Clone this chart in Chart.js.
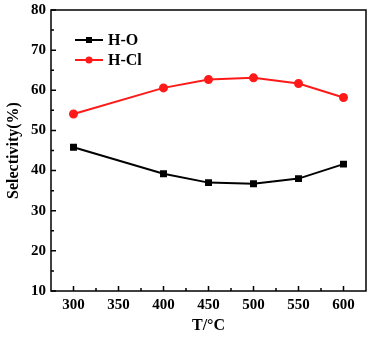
<!DOCTYPE html>
<html lang="en">
<head>
    <title>Selectivity vs T</title>
    <script src="https://cdn.jsdelivr.net/npm/chart.js"></script>
    <style>
        body { margin: 0; background: #fff; }
        #chartContainer { width: 381px; height: 338px; }
    </style>
</head>
<body>
<div id="chartContainer">
    <canvas id="selChart"></canvas>
</div>
<script>
// data
const temps = [300, 400, 450, 500, 550, 600];
const hO = [45.8, 39.2, 37.0, 36.7, 38.0, 41.6];
const hCl = [54.1, 60.6, 62.7, 63.1, 61.7, 58.2];
const xTicks = [300, 350, 400, 450, 500, 550, 600];
const yTicks = [10, 20, 30, 40, 50, 60, 70, 80];

const FONT = '"Liberation Serif", "Times New Roman", serif';

// inward major/minor ticks + frame + legend inside the plot
const decorPlugin = {
    id: 'decor',
    afterDatasetsDraw(chart) {
        const ctx = chart.ctx;
        const a = chart.chartArea;
        const xs = chart.scales.x, ys = chart.scales.y;
        ctx.save();
        ctx.strokeStyle = '#000';
        ctx.lineWidth = 1.5;
        ctx.strokeRect(a.left, a.top, a.right - a.left, a.bottom - a.top);
        ctx.beginPath();
        xTicks.forEach(v => {
            const px = xs.getPixelForValue(v);
            ctx.moveTo(px, a.bottom); ctx.lineTo(px, a.bottom - 5);
            if (v < 600) {
                const pm = xs.getPixelForValue(v + 25);
                ctx.moveTo(pm, a.bottom); ctx.lineTo(pm, a.bottom - 3);
            }
        });
        yTicks.forEach(v => {
            const py = ys.getPixelForValue(v);
            ctx.moveTo(a.left, py); ctx.lineTo(a.left + 5, py);
            if (v < 80) {
                const pm = ys.getPixelForValue(v + 5);
                ctx.moveTo(a.left, pm); ctx.lineTo(a.left + 3, pm);
            }
        });
        ctx.stroke();

        // legend
        ctx.font = 'bold 16px ' + FONT;
        ctx.textBaseline = 'middle';
        chart.data.datasets.forEach((ds, i) => {
            const y = a.top + 30 + i * 20;
            const x0 = a.left + 24;
            ctx.strokeStyle = ds.borderColor;
            ctx.lineWidth = 2;
            ctx.beginPath();
            ctx.moveTo(x0, y); ctx.lineTo(x0 + 28, y);
            ctx.stroke();
            ctx.fillStyle = ds.backgroundColor;
            if (ds.pointStyle === 'rect') {
                ctx.fillRect(x0 + 14 - 3, y - 3, 6, 6);
            } else {
                ctx.beginPath();
                ctx.arc(x0 + 14, y, 3.5, 0, Math.PI * 2);
                ctx.fill();
            }
            ctx.fillStyle = '#000';
            ctx.fillText(ds.label, x0 + 33, y + 1);
        });
        ctx.restore();
    }
};

new Chart(document.getElementById('selChart'), {
    type: 'line',
    data: {
        datasets: [{
            label: 'H-O',
            data: temps.map((t, i) => ({ x: t, y: hO[i] })),
            borderColor: '#000',
            backgroundColor: '#000',
            pointStyle: 'rect',
            pointRadius: 3.5,
            borderWidth: 2,
            tension: 0
        }, {
            label: 'H-Cl',
            data: temps.map((t, i) => ({ x: t, y: hCl[i] })),
            borderColor: '#ff1a1a',
            backgroundColor: '#ff1a1a',
            pointStyle: 'circle',
            pointRadius: 3.5,
            borderWidth: 2,
            tension: 0
        }]
    },
    options: {
        responsive: true,
        maintainAspectRatio: false,
        animation: false,
        layout: { padding: { left: 0, right: 15, top: 10, bottom: 0 } },
        plugins: { legend: { display: false }, tooltip: { enabled: false } },
        scales: {
            x: {
                type: 'linear',
                min: 275,
                max: 625,
                afterBuildTicks(scale) { scale.ticks = xTicks.map(v => ({ value: v })); },
                afterFit(scale) { scale.height = 47; scale.paddingLeft = 0; scale.paddingRight = 0; },
                grid: { display: false, drawTicks: false, tickLength: 0 },
                border: { display: false },
                ticks: { color: '#000', padding: 5, font: { family: FONT, size: 15, weight: 'bold' } },
                title: { display: true, text: 'T/°C', color: '#000', padding: { top: 0, bottom: 3 },
                    font: { family: FONT, size: 16, weight: 'bold' } }
            },
            y: {
                min: 10,
                max: 80,
                afterBuildTicks(scale) { scale.ticks = yTicks.map(v => ({ value: v })); },
                afterFit(scale) { scale.width = 51; scale.paddingTop = 0; scale.paddingBottom = 0; },
                grid: { display: false, drawTicks: false, tickLength: 0 },
                border: { display: false },
                ticks: { color: '#000', padding: 5, font: { family: FONT, size: 15, weight: 'bold' } },
                title: { display: true, text: 'Selectivity(%)', color: '#000', padding: { top: 4, bottom: 0 },
                    font: { family: FONT, size: 16, weight: 'bold' } }
            }
        }
    },
    plugins: [decorPlugin]
});
</script>
</body>
</html>
